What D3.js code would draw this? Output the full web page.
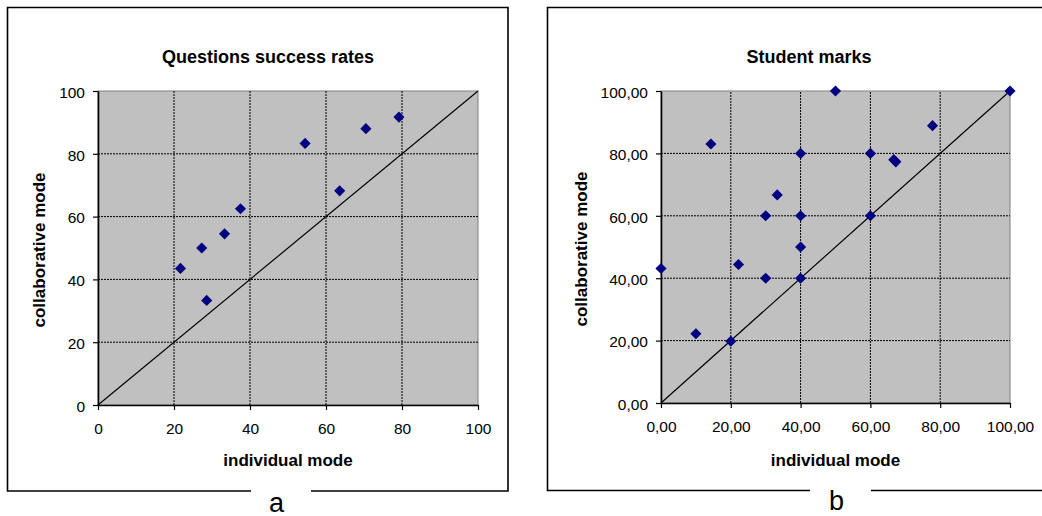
<!DOCTYPE html>
<html>
<head>
<meta charset="utf-8">
<script src="https://cdn.jsdelivr.net/npm/d3@7"></script>
<style>
  body { margin: 0; background: #fff; }
  text { font-family: "Liberation Sans", Arial, sans-serif; }
</style>
</head>
<body>
<svg id="chart" width="1042" height="516"></svg>
<script>
// Questions success rates (panel a)
const questionsIndividual    = [21.7, 27.3, 28.6, 33.3, 37.5, 54.5, 63.6, 70.5, 79.2]
const questionsCollaborative = [43.5, 50.0, 33.3, 54.5, 62.5, 83.3, 68.2, 88.0, 91.7]

// Student marks (panel b)
const marksIndividual    = [0, 10, 14.3, 20, 22.2, 30, 30, 33.3, 40, 40, 40, 40, 50, 60, 60, 66.7, 67.3, 77.8, 100]
const marksCollaborative = [43.1, 22.2, 83.0, 19.8, 44.4, 60, 40, 66.7, 80, 60, 50, 40, 100, 80, 60, 78.0, 77.3, 88.9, 100]

// y = x reference line
const diagonal = [0, 100]

const axisTicks = [0, 20, 40, 60, 80, 100]
const commaFormat = d3.formatLocale({ decimal: ",", thousands: ".", grouping: [3], currency: ["", ""] }).format(".2f")

const svg = d3.select("#chart")

function drawPanel(o) {
  const x = d3.scaleLinear().domain([0, 100]).range([o.left, o.right])
  const y = d3.scaleLinear().domain([0, 100]).range([o.bottom, o.top])

  // outer frame with a gap in the bottom edge for the letter
  const f = o.frame
  svg.append("path")
     .attr("d", `M${f.gapL},${f.y1}H${f.x0}V${f.y0}H${f.x1}V${f.y1}H${f.gapR}`)
     .attr("fill", "none")
     .attr("stroke", "#000")
     .attr("stroke-width", 1.6)

  svg.append("text")
     .attr("x", o.letterX).attr("y", o.letterY)
     .attr("text-anchor", "middle")
     .attr("font-size", 27)
     .text(o.letter)

  // plot area
  svg.append("rect")
     .attr("x", x(0)).attr("y", y(100))
     .attr("width", x(100) - x(0)).attr("height", y(0) - y(100))
     .attr("fill", "#c0c0c0")
     .attr("stroke", "#808080")
     .attr("stroke-width", 1)

  const inner = axisTicks.filter(t => t > 0 && t < 100)
  const grid = svg.append("g")
                  .attr("stroke", "#000")
                  .attr("stroke-width", 1)
                  .attr("stroke-dasharray", "2,1")
  grid.selectAll(".gx").data(inner).join("line")
      .attr("x1", d => x(d)).attr("x2", d => x(d))
      .attr("y1", y(0)).attr("y2", y(100))
  grid.selectAll(".gy").data(inner).join("line")
      .attr("y1", d => y(d)).attr("y2", d => y(d))
      .attr("x1", x(0)).attr("x2", x(100))

  // diagonal
  svg.append("path")
     .datum(diagonal)
     .attr("d", d3.line().x(d => x(d)).y(d => y(d)))
     .attr("fill", "none")
     .attr("stroke", "#000")
     .attr("stroke-width", 1.2)

  // axes
  const yAxis = svg.append("g")
     .attr("transform", `translate(${x(0)},0)`)
     .call(d3.axisLeft(y).tickValues(axisTicks).tickSize(5).tickPadding(8).tickFormat(o.fmt).tickSizeOuter(0))
  const xAxis = svg.append("g")
     .attr("transform", `translate(0,${y(0)})`)
     .call(d3.axisBottom(x).tickValues(axisTicks).tickSize(5).tickPadding(13).tickFormat(o.fmt).tickSizeOuter(0))
  for (const g of [xAxis, yAxis]) {
    g.attr("font-size", 15.5).attr("font-family", null)
    g.select(".domain").attr("stroke-width", 1.6)
    g.selectAll(".tick line").attr("stroke-width", 1.2)
    g.selectAll(".tick text").attr("fill", "#000")
  }
  yAxis.selectAll(".tick text").attr("dy", ".4em")

  // points
  const pts = o.xs.map((v, i) => [v, o.ys[i]])
  svg.append("g")
     .attr("fill", "#000080")
     .selectAll("path")
     .data(pts)
     .join("path")
     .attr("d", d3.symbol(d3.symbolSquare, 62))
     .attr("transform", d => `translate(${x(d[0])},${y(d[1])}) rotate(45)`)

  // titles
  svg.append("text")
     .attr("x", o.titleX).attr("y", 63)
     .attr("text-anchor", "middle")
     .attr("font-weight", "bold")
     .attr("font-size", 18)
     .text(o.title)

  svg.append("text")
     .attr("x", (o.left + o.right) / 2).attr("y", 466)
     .attr("text-anchor", "middle")
     .attr("font-weight", "bold")
     .attr("font-size", 17)
     .text("individual mode")

  svg.append("text")
     .attr("transform", `translate(${o.yTitleX},${(o.top + o.bottom) / 2 + 2}) rotate(-90)`)
     .attr("text-anchor", "middle")
     .attr("font-weight", "bold")
     .attr("font-size", 17)
     .text("collaborative mode")
}

drawPanel({
  left: 98, right: 478, top: 91, bottom: 405,
  frame: { x0: 7.5, x1: 508, y0: 7.5, y1: 491, gapL: 251, gapR: 311 },
  letter: "a", letterX: 276.5, letterY: 511.5,
  title: "Questions success rates", titleX: 268,
  yTitleX: 44.5,
  fmt: d3.format("d"),
  xs: questionsIndividual, ys: questionsCollaborative
})

drawPanel({
  left: 661, right: 1010, top: 91, bottom: 403,
  frame: { x0: 547.5, x1: 1060, y0: 7.5, y1: 490.5, gapL: 810, gapR: 871 },
  letter: "b", letterX: 836.5, letterY: 510,
  title: "Student marks", titleX: 809,
  yTitleX: 586.5,
  fmt: commaFormat,
  xs: marksIndividual, ys: marksCollaborative
})
</script>
</body>
</html>
